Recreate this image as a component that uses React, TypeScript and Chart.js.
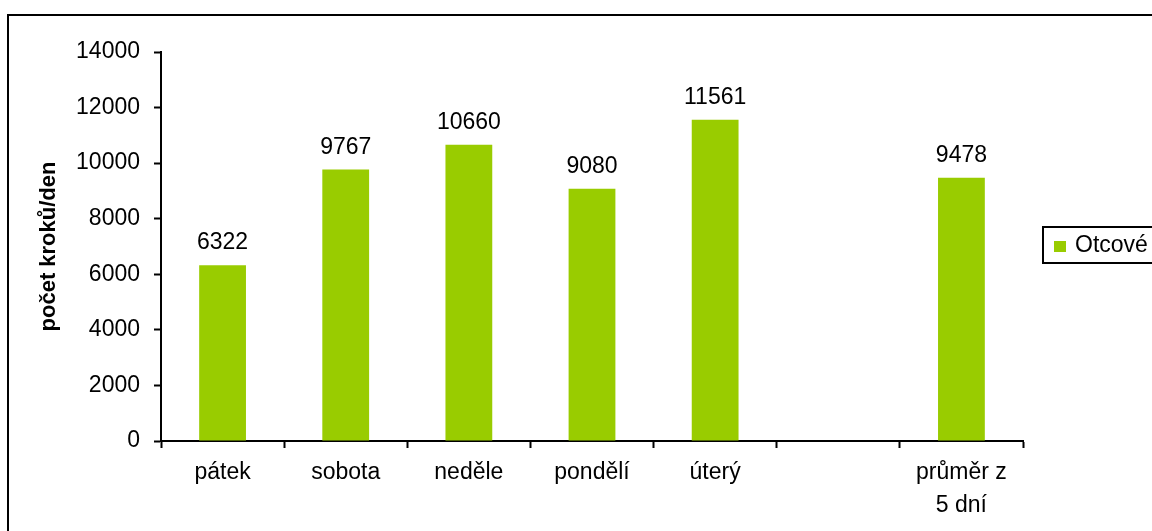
import React, { useEffect, useRef } from "react";
import { Chart, registerables } from "chart.js";

Chart.register(...registerables);

// Daily step counts (fathers), plus the 5-day average after an empty gap column
const categories: (string | string[])[] = ["pátek", "sobota", "neděle", "pondělí", "úterý", "", ["průměr z", "5 dní"]];
const steps: (number | null)[] = [6322, 9767, 10660, 9080, 11561, null, 9478];
const seriesName = "Otcové";
const yTitle = "počet kroků/den";
const yMin = 0;
const yMax = 14000;
const yStep = 2000;

const BAR_COLOR = "#99CC00";
const FONT = "'Liberation Sans', Arial, Helvetica, sans-serif";
const TEXT_SIZE = 23;

const decorations = {
  id: "decorations",
  beforeDraw(chart: any) {
    const { ctx, width, height } = chart;
    ctx.save();
    ctx.fillStyle = "#ffffff";
    ctx.fillRect(0, 0, width, height);
    ctx.strokeStyle = "#000000";
    ctx.lineWidth = 2;
    ctx.strokeRect(8, 15, width + 20, height + 20);
    ctx.restore();
  },
  afterDatasetsDraw(chart: any) {
    const { ctx } = chart;
    const meta = chart.getDatasetMeta(0);
    const data = chart.data.datasets[0].data as (number | null)[];
    ctx.save();
    ctx.fillStyle = "#000000";
    ctx.font = `${TEXT_SIZE}px ${FONT}`;
    ctx.textAlign = "center";
    ctx.textBaseline = "alphabetic";
    meta.data.forEach((bar: any, i: number) => {
      const v = data[i];
      if (v == null) return;
      ctx.fillText(String(v), bar.x, bar.y - 16);
    });
    ctx.restore();
  },
  afterDraw(chart: any) {
    const { ctx, chartArea } = chart;
    ctx.save();
    // y axis title
    ctx.fillStyle = "#000000";
    ctx.font = `bold 22px ${FONT}`;
    ctx.textAlign = "center";
    ctx.textBaseline = "middle";
    ctx.translate(49, (chartArea.top + chartArea.bottom) / 2);
    ctx.rotate(-Math.PI / 2);
    ctx.fillText(yTitle, 0, 0);
    ctx.restore();

    // legend box
    ctx.save();
    ctx.strokeStyle = "#000000";
    ctx.lineWidth = 2;
    ctx.strokeRect(1043, 227, 200, 36);
    ctx.fillStyle = BAR_COLOR;
    ctx.fillRect(1054, 241, 12, 11);
    ctx.fillStyle = "#000000";
    ctx.font = `${TEXT_SIZE}px ${FONT}`;
    ctx.textAlign = "left";
    ctx.textBaseline = "middle";
    ctx.fillText(seriesName, 1075, 246);
    ctx.restore();
  },
};

export default function App() {
  const canvasRef = useRef<HTMLCanvasElement | null>(null);

  useEffect(() => {
    if (!canvasRef.current) return;
    const chart = new Chart(canvasRef.current, {
      type: "bar",
      data: {
        labels: categories,
        datasets: [
          {
            label: seriesName,
            data: steps,
            backgroundColor: BAR_COLOR,
            borderWidth: 0,
            barPercentage: 0.38,
            categoryPercentage: 1,
          },
        ],
      },
      options: {
        responsive: false,
        animation: false,
        layout: { padding: { top: 52, right: 129, bottom: 0, left: 0 } },
        plugins: {
          legend: { display: false },
          tooltip: { enabled: false },
          title: { display: false },
        },
        scales: {
          x: {
            offset: true,
            grid: {
              offset: true,
              drawOnChartArea: false,
              drawTicks: true,
              tickLength: 7,
              color: "#000000",
              tickWidth: 2,
            },
            border: { display: true, color: "#000000", width: 2 },
            ticks: {
              color: "#000000",
              font: { family: FONT, size: TEXT_SIZE, lineHeight: 1.4 },
              padding: 9,
              maxRotation: 0,
              autoSkip: false,
            },
            afterFit(scale: any) {
              scale.height = 90;
            },
          },
          y: {
            min: yMin,
            max: yMax,
            ticks: {
              stepSize: yStep,
              color: "#000000",
              font: { family: FONT, size: TEXT_SIZE },
              padding: 14,
              callback: (v: any) => String(v),
            },
            grid: {
              drawOnChartArea: false,
              drawTicks: true,
              tickLength: 7,
              color: "#000000",
              tickWidth: 2,
            },
            border: { display: true, color: "#000000", width: 2 },
            afterFit(scale: any) {
              scale.width = 161;
            },
          },
        },
      },
      plugins: [decorations],
    });
    return () => chart.destroy();
  }, []);

  return (
    <div style={{ position: "absolute", left: 0, top: 0, width: 1152, height: 531, background: "#fff" }}>
      <canvas ref={canvasRef} width={1152} height={531} />
    </div>
  );
}
